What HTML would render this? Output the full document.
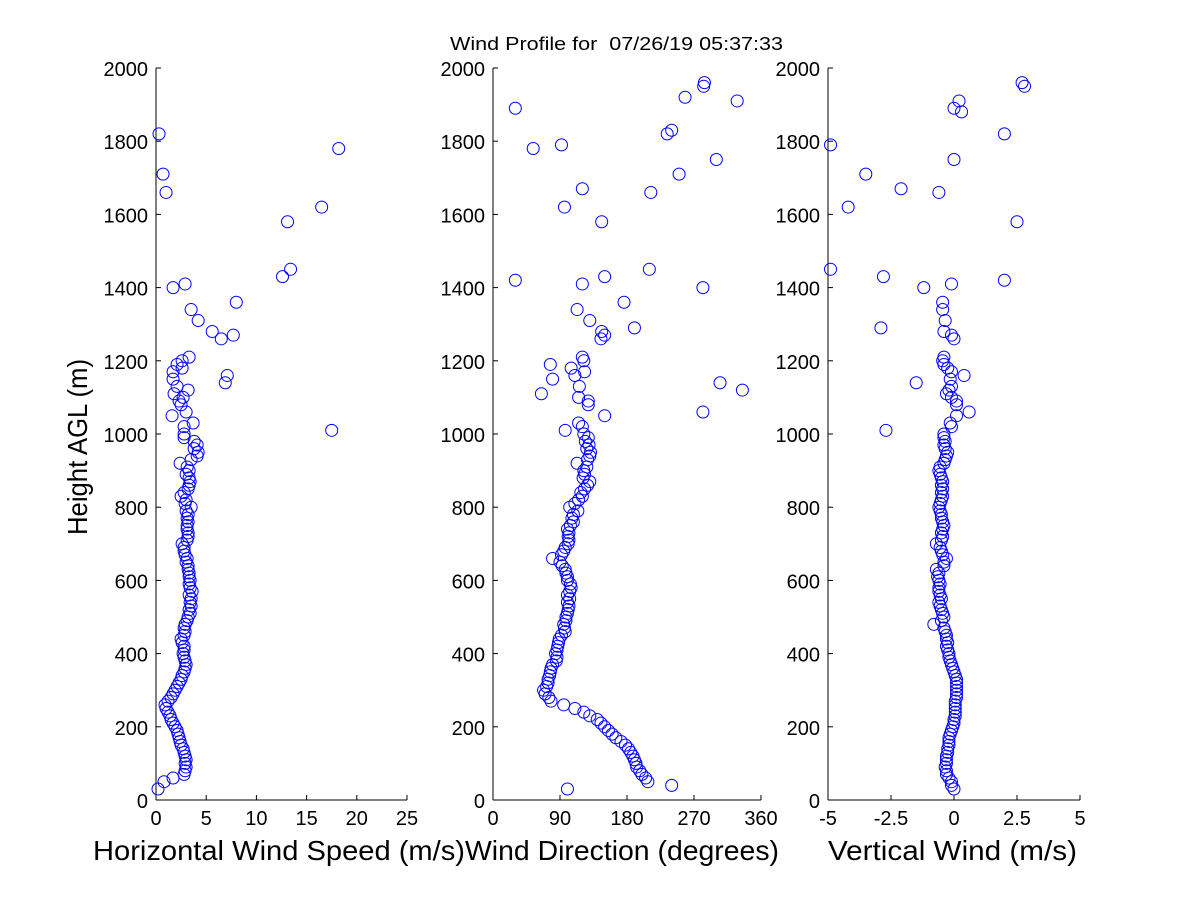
<!DOCTYPE html>
<html><head><meta charset="utf-8"><style>
body{margin:0;background:#fff}
svg{display:block;font-family:"Liberation Sans",sans-serif}
</style></head><body>
<svg id="chart" width="1200" height="900" xmlns="http://www.w3.org/2000/svg">
<rect width="1200" height="900" fill="#fff"/>
<text x="450" y="50" font-size="18" textLength="333" lengthAdjust="spacingAndGlyphs" xml:space="preserve">Wind Profile for  07/26/19 05:37:33</text>
<text transform="translate(87,535) rotate(-90)" font-size="28" textLength="176" lengthAdjust="spacingAndGlyphs">Height AGL (m)</text>
</svg>
<script>
const heightTicks=[0,200,400,600,800,1000,1200,1400,1600,1800,2000];
const speedTicks=[0,5,10,15,20,25];
const dirTicks=[0,90,180,270,360];
const vertTicks=[-5,-2.5,0,2.5,5];
const speedH=[30,50,60,70,80,90,100,110,120,130,140,150,160,170,180,190,200,210,220,230,240,250,260,270,280,290,300,310,320,330,340,350,360,370,380,390,400,410,420,430,440,450,460,470,480,490,500,510,520,530,540,550,560,570,580,590,600,610,620,630,640,650,660,670,680,690,700,710,720,730,740,750,760,770,780,790,800,810,820,830,840,850,860,870,880,890,900,910,920,930,940,950,960,970,980,990,1000,1010,1020,1030,1050,1060,1080,1090,1100,1110,1120,1130,1140,1150,1160,1170,1180,1190,1200,1210,1260,1270,1280,1310,1340,1360,1400,1410,1430,1450,1580,1620,1660,1710,1780,1820];
const speedV=[0.2,0.8,1.7,2.8,2.9,3.0,2.9,3.0,2.9,2.8,2.7,2.5,2.4,2.3,2.2,2.1,1.9,1.7,1.5,1.4,1.2,1.0,0.9,1.2,1.5,1.7,1.9,2.1,2.3,2.5,2.6,2.8,2.9,3.0,2.9,2.8,2.7,2.8,2.8,2.6,2.5,2.8,2.9,2.8,2.9,3.1,3.2,3.4,3.3,3.5,3.4,3.5,3.3,3.6,3.4,3.3,3.4,3.3,3.3,3.2,3.2,3.0,3.1,2.9,2.8,2.8,2.6,3.1,3.2,3.2,3.1,3.1,3.2,3.1,3.2,3.0,3.5,2.9,3.0,2.5,2.8,3.2,3.3,3.4,3.3,3.0,3.3,3.1,2.4,3.5,4.1,4.2,3.8,4.1,3.8,2.8,2.8,17.5,2.8,3.7,1.6,3.0,2.5,2.3,2.7,1.8,3.2,2.1,6.9,1.7,7.1,1.7,2.6,2.1,2.6,3.3,6.5,7.7,5.6,4.2,3.5,8.0,1.7,2.9,12.6,13.4,13.1,16.5,1.0,0.7,18.2,0.3];
const dirH=[30,40,50,60,70,80,90,100,110,120,130,140,150,160,170,180,190,200,210,220,230,240,250,260,270,280,290,300,310,320,330,340,350,360,370,380,390,400,410,420,430,440,450,460,470,480,490,500,510,520,530,540,550,560,570,580,590,600,610,620,630,640,650,660,670,680,690,700,710,720,730,740,750,760,770,780,790,800,810,820,830,840,850,860,870,880,890,900,910,920,930,940,950,960,970,980,990,1000,1010,1020,1030,1050,1060,1080,1090,1100,1110,1120,1130,1140,1150,1160,1170,1180,1190,1200,1210,1260,1270,1280,1290,1310,1340,1360,1400,1410,1420,1430,1450,1580,1620,1660,1670,1710,1750,1780,1790,1820,1830,1890,1910,1920,1950,1960];
const dirV=[100,240,208,205,200,197,193,192,190,188,185,182,178,172,165,160,155,150,145,140,130,122,110,95,78,75,70,68,72,74,74,76,77,78,80,85,86,84,86,87,88,89,92,97,96,95,98,98,100,101,102,100,103,100,103,105,104,100,100,98,97,93,90,80,92,95,97,101,102,101,102,100,104,108,106,108,114,103,110,115,120,118,123,127,130,121,123,122,126,113,127,130,131,126,129,124,128,122,97,120,115,150,282,128,128,115,65,335,116,305,80,110,123,105,77,122,120,145,150,146,190,130,113,176,282,120,30,150,210,146,96,212,120,250,300,54,92,234,240,30,328,258,283,284];
const vertH=[30,40,50,60,70,80,90,100,110,120,130,140,150,160,170,180,190,200,210,220,230,240,250,260,270,280,290,300,310,320,330,340,350,360,370,380,390,400,410,420,430,440,450,460,470,480,490,500,510,520,530,540,550,560,570,580,590,600,610,620,630,640,650,660,670,680,690,700,710,720,730,740,750,760,770,780,790,800,810,820,830,840,850,860,870,880,890,900,910,920,930,940,950,960,970,980,990,1000,1010,1020,1030,1050,1060,1080,1090,1100,1110,1120,1130,1140,1150,1160,1170,1180,1190,1200,1210,1260,1270,1280,1290,1310,1340,1360,1400,1410,1420,1430,1450,1580,1620,1660,1670,1710,1750,1790,1820,1880,1890,1910,1950,1960];
const vertV=[0,-0.1,-0.1,-0.2,-0.3,-0.3,-0.35,-0.3,-0.3,-0.3,-0.25,-0.25,-0.2,-0.2,-0.2,-0.15,-0.1,-0.05,0,0,0.05,0.05,0.05,0.05,0.05,0.1,0.1,0.1,0.1,0.1,0.1,0.05,0,-0.05,-0.1,-0.15,-0.2,-0.2,-0.25,-0.3,-0.25,-0.3,-0.3,-0.35,-0.4,-0.8,-0.5,-0.4,-0.45,-0.5,-0.55,-0.6,-0.5,-0.55,-0.6,-0.6,-0.55,-0.6,-0.65,-0.6,-0.7,-0.4,-0.4,-0.3,-0.45,-0.5,-0.55,-0.7,-0.5,-0.45,-0.5,-0.45,-0.4,-0.45,-0.5,-0.5,-0.55,-0.6,-0.55,-0.5,-0.45,-0.5,-0.45,-0.5,-0.45,-0.5,-0.55,-0.6,-0.55,-0.4,-0.35,-0.3,-0.25,-0.35,-0.4,-0.35,-0.4,-0.4,-2.7,-0.1,-0.15,0.1,0.6,0.1,0.1,-0.1,-0.3,-0.2,-0.1,-1.5,-0.15,0.4,-0.1,-0.25,-0.4,-0.45,-0.4,0,-0.1,-0.4,-2.9,-0.35,-0.45,-0.45,-1.2,-0.1,2.0,-2.8,-4.9,2.5,-4.2,-0.6,-2.1,-3.5,0,-4.9,2.0,0.3,0,0.2,2.8,2.7];

const NS='http://www.w3.org/2000/svg';
const svg=document.getElementById('chart');
const Y0=800,Y1=68;
const yScale=h=>Y0-(h/2000)*(Y0-Y1);
function mk(tag,attrs){const e=document.createElementNS(NS,tag);for(const k in attrs)e.setAttribute(k,attrs[k]);svg.appendChild(e);return e;}
const panels=[
 {key:'speed',x0:156,x1:407,min:0,max:25,ticks:speedTicks,H:speedH,V:speedV,label:'Horizontal Wind Speed (m/s)',lx:93,lw:372},
 {key:'direction',x0:493,x1:761,min:0,max:360,ticks:dirTicks,H:dirH,V:dirV,label:'Wind Direction (degrees)',lx:465,lw:314},
 {key:'vertical',x0:828,x1:1080,min:-5,max:5,ticks:vertTicks,H:vertH,V:vertV,label:'Vertical Wind (m/s)',lx:828,lw:249}
];
panels.forEach(p=>{
 const xs=v=>p.x0+(v-p.min)/(p.max-p.min)*(p.x1-p.x0);
 let e=mk('line',{x1:p.x0,y1:Y1,x2:p.x0,y2:Y0,stroke:'#000'});
 
 
 e=mk('line',{x1:p.x0,y1:Y0,x2:p.x1,y2:Y0,stroke:'#000'});
 
 
 heightTicks.forEach(t=>{
  const y=yScale(t);
  mk('line',{x1:p.x0,y1:y,x2:p.x0+5,y2:y,stroke:'#000'});
  const tx=mk('text',{x:p.x0-8,y:y+8,'font-size':20,'text-anchor':'end'});
  tx.textContent=t;
  
  
 });
 p.ticks.forEach(t=>{
  const x=xs(t);
  mk('line',{x1:x,y1:Y0,x2:x,y2:Y0-5,stroke:'#000'});
  const tx=mk('text',{x:x,y:Y0+25,'font-size':20,'text-anchor':'middle'});
  tx.textContent=t;
  
  
 });
 const lb=mk('text',{x:p.lx,y:860,'font-size':28,textLength:p.lw,lengthAdjust:'spacingAndGlyphs'});
 lb.textContent=p.label;
 
 
 p.H.forEach((h,i)=>{
  const c=mk('circle',{cx:xs(p.V[i]),cy:yScale(h),r:6,fill:'none',stroke:'#0000ff','stroke-width':1});
  
  
 });
});
</script>
</body></html>
